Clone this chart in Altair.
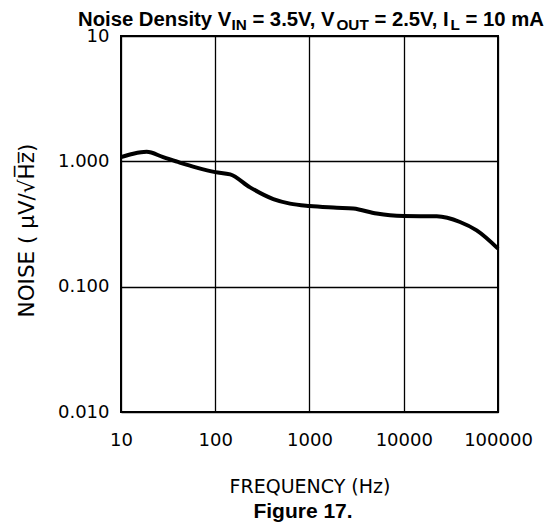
import altair as alt
import pandas as pd

freq = [10, 13.5, 18.7, 28, 42, 63.5, 100, 144, 234, 413, 621, 1000, 1945, 2917, 5160, 7145, 10000, 22400, 39500, 59400, 100000]
noise = [1.08, 1.15, 1.19, 1.08, 0.976, 0.89, 0.82, 0.787, 0.62, 0.50, 0.46, 0.44, 0.427, 0.42, 0.383, 0.371, 0.366, 0.364, 0.328, 0.281, 0.201]
x_ticks = [10, 100, 1000, 10000, 100000]
y_ticks = [0.01, 0.1, 1, 10]

df = pd.DataFrame({"f": freq, "n": noise})

W, H = 377, 376

# Arial/Liberation Sans Bold advance widths (em)
AW = {'N': .722, 'o': .611, 'i': .278, 's': .556, 'e': .556, ' ': .278, 'D': .722, 'n': .611,
      't': .333, 'y': .556, 'V': .667, 'I': .278, '=': .584, '3': .556, '.': .278, '5': .556,
      ',': .278, 'O': .778, 'U': .722, 'T': .611, '2': .556, 'L': .611, '1': .556, '0': .556,
      'm': .889, 'A': .722}
segs = [("Noise Density V", False), ("IN", True), (" = 3.5V, V", False), ("OUT", True),
        (" = 2.5V, I", False), ("L", True), (" = 10 mA", False)]
MAIN, SUB = 20.3, 15.3
widths = [sum(AW[c] for c in s) * (SUB if sub else MAIN) for s, sub in segs]
total = sum(widths)
x0 = (544 - 121) - total

line = alt.Chart(df).mark_line(color="black", strokeWidth=4, interpolate="monotone").encode(
    x=alt.X("f:Q", scale=alt.Scale(type="log", domain=[10, 100000], nice=False),
            axis=alt.Axis(values=x_ticks, title="FREQUENCY (Hz)", labelFlush=False,
                          labelOverlap=False, labelPadding=19, titleY=80,
                          titleBaseline="alphabetic", titleFontSize=19,
                          labelExpr="format(datum.value, 'd')")),
    y=alt.Y("n:Q", scale=alt.Scale(type="log", domain=[0.01, 10], nice=False),
            axis=alt.Axis(values=y_ticks, title="NOISE ( μV/√H̅z̅)", labelPadding=12,
                          labelOverlap=False, labelFlush=False,
                          titleAngle=-90, titleX=-88, titleY=194, titleAlign="center",
                          titleBaseline="alphabetic", titleFontSize=21.5,
                          labelExpr="datum.value == 10 ? '10' : format(datum.value, '.3f')")),
)

layers = [line]
one = pd.DataFrame({"a": [0]})
cx = x0
for (s, sub), w in zip(segs, widths):
    size = SUB if sub else MAIN
    lead = (len(s) - len(s.lstrip(" "))) * AW[" "] * size
    layers.append(
        alt.Chart(one).mark_text(
            text=s.strip(" "), align="left", baseline="alphabetic", font="Liberation Sans",
            fontWeight="bold", fontSize=size, color="black"
        ).encode(x=alt.value(cx + lead), y=alt.value(-6.5 if sub else -10.3))
    )
    cx += w

layers.append(
    alt.Chart(one).mark_text(
        text="Figure 17.", align="center", baseline="alphabetic", font="Liberation Sans",
        fontWeight="bold", fontSize=21, color="black"
    ).encode(x=alt.value(182), y=alt.value(482))
)

chart = alt.layer(*layers).properties(
    width=W, height=H,
    autosize=alt.AutoSizeParams(type="none"),
    padding={"left": 113, "top": 28, "right": 46, "bottom": 111},
).configure_view(stroke="black", strokeWidth=2).configure_axis(
    labelFont="DejaVu Sans", labelFontSize=18, labelColor="black",
    titleFont="DejaVu Sans", titleFontWeight="normal", titleColor="black",
    grid=True, gridColor="black", gridWidth=1.3, gridOpacity=1,
    ticks=False, domain=False,
)

chart.save("out.html", embed_options={"renderer": "svg", "actions": False})
